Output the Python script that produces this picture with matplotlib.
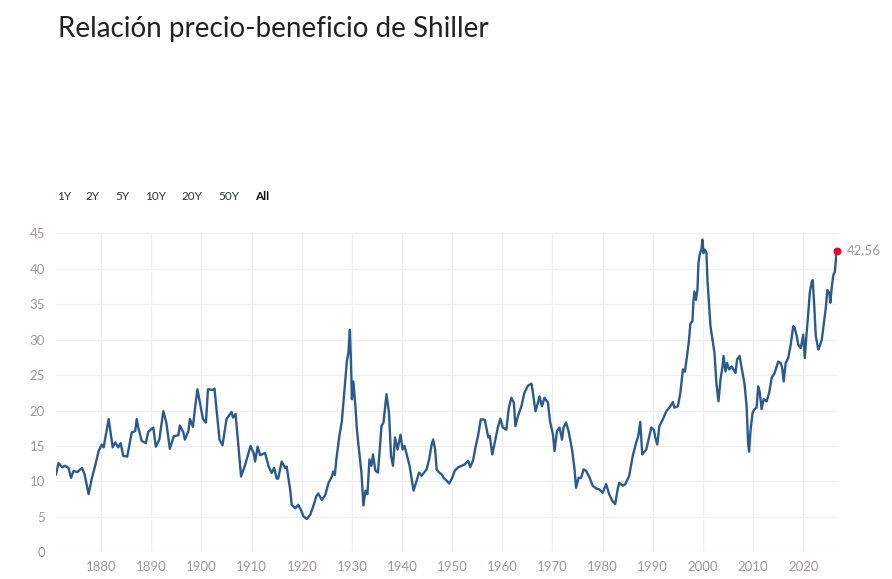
import matplotlib
matplotlib.use("Agg")
import matplotlib.pyplot as plt

# Shiller CAPE
years = [
    1871.0, 1871.5, 1872.2, 1872.8, 1873.5, 1874.0, 1874.5, 1875.2, 1876.2, 1876.7,
    1877.5, 1878.1, 1878.8, 1879.5, 1880.1, 1880.5, 1881.5, 1882.3, 1882.8, 1883.4,
    1883.9, 1884.4, 1885.2, 1886.1, 1886.8, 1887.1, 1887.4, 1888.1, 1888.9, 1889.4,
    1890.4, 1890.9, 1891.6, 1892.4, 1893.0, 1893.7, 1894.5, 1895.4, 1895.7, 1896.4,
    1896.7, 1897.4, 1897.7, 1898.3, 1898.7, 1899.2, 1899.7, 1900.3, 1900.9, 1901.3,
    1902.3, 1902.6, 1903.0, 1903.6, 1904.2, 1905.0, 1906.0, 1906.3, 1906.8, 1907.2,
    1907.9, 1908.7, 1909.4, 1909.8, 1910.4, 1910.7, 1911.2, 1911.7, 1912.7, 1913.4,
    1914.0, 1914.5, 1915.0, 1915.3, 1916.0, 1916.7, 1917.0, 1917.7, 1918.0, 1918.7,
    1919.3, 1920.0, 1920.3, 1921.0, 1921.7, 1922.3, 1922.9, 1923.3, 1924.0, 1924.7,
    1925.3, 1926.0, 1926.3, 1926.6, 1926.9, 1927.5, 1928.0, 1928.4, 1928.7, 1929.0,
    1929.3, 1929.6, 1929.8, 1930.0, 1930.3, 1930.7, 1931.0, 1931.3, 1931.9, 1932.3,
    1932.7, 1933.1, 1933.5, 1933.9, 1934.2, 1934.7, 1935.2, 1935.9, 1936.3, 1936.9,
    1937.4, 1937.8, 1938.2, 1938.6, 1939.1, 1939.7, 1940.1, 1940.5, 1941.5, 1942.3,
    1943.4, 1943.9, 1944.9, 1945.4, 1945.9, 1946.2, 1946.6, 1946.9, 1947.4, 1947.9,
    1948.3, 1948.9, 1949.4, 1950.0, 1950.5, 1951.2, 1951.9, 1952.5, 1953.2, 1953.6,
    1954.2, 1954.7, 1955.2, 1955.7, 1956.5, 1957.2, 1957.5, 1958.0, 1958.7, 1959.1,
    1959.6, 1960.1, 1960.8, 1961.3, 1961.8, 1962.3, 1962.6, 1963.1, 1963.8, 1964.4,
    1965.1, 1965.8, 1966.1, 1966.6, 1967.1, 1967.4, 1967.9, 1968.4, 1969.1, 1969.5,
    1970.1, 1970.4, 1970.9, 1971.4, 1971.9, 1972.2, 1972.7, 1973.2, 1973.9, 1974.4,
    1974.7, 1975.2, 1975.7, 1976.2, 1976.7, 1977.4, 1978.0, 1978.7, 1979.3, 1980.0,
    1980.7, 1981.3, 1981.9, 1982.5, 1983.0, 1983.3, 1984.0, 1984.5, 1985.3, 1986.0,
    1986.7, 1987.1, 1987.5, 1987.9, 1988.7, 1989.3, 1989.7, 1990.2, 1990.5, 1990.9,
    1991.3, 1992.0, 1992.7, 1993.5, 1994.0, 1994.3, 1995.0, 1995.5, 1996.0, 1996.4,
    1996.9, 1997.2, 1997.5, 1997.9, 1998.1, 1998.3, 1998.6, 1998.9, 1999.1, 1999.4,
    1999.7, 1999.9, 2000.1, 2000.4, 2000.7, 2000.9, 2001.2, 2001.5, 2002.0, 2002.3,
    2002.7, 2003.1, 2003.5, 2003.9, 2004.1, 2004.5, 2004.8, 2005.2, 2005.7, 2006.1,
    2006.5, 2006.8, 2007.3, 2007.9, 2008.3, 2008.7, 2009.0, 2009.2, 2009.5, 2009.9,
    2010.3, 2010.7, 2011.0, 2011.3, 2011.7, 2012.1, 2012.7, 2013.2, 2013.7, 2014.3,
    2015.0, 2015.5, 2015.8, 2016.1, 2016.5, 2017.0, 2017.5, 2018.0, 2018.3, 2018.7,
    2019.0, 2019.5, 2020.0, 2020.3, 2020.7, 2021.0, 2021.3, 2021.7, 2021.9, 2022.2,
    2022.5, 2023.0, 2023.3, 2023.7, 2024.1, 2024.5, 2024.8, 2025.2, 2025.4, 2025.7,
    2026.0, 2026.3, 2026.67,
]
cape = [
    11.0, 12.6, 12.0, 12.2, 11.9, 10.5, 11.5, 11.3, 11.9, 11.0,
    8.2, 10.3, 12.2, 14.3, 15.2, 14.8, 18.8, 14.8, 15.5, 14.8,
    15.4, 13.6, 13.5, 16.9, 17.1, 18.8, 17.6, 15.7, 15.4, 17.0,
    17.6, 14.9, 15.9, 19.9, 18.3, 14.6, 16.4, 16.5, 17.9, 16.9,
    15.9, 17.1, 18.8, 17.7, 20.2, 23.0, 21.1, 18.8, 18.3, 23.0,
    22.9, 23.1, 20.2, 15.9, 15.1, 18.8, 19.8, 19.0, 19.5, 16.4,
    10.7, 12.3, 14.0, 15.0, 14.0, 12.8, 14.9, 13.7, 14.0, 12.1,
    11.2, 11.9, 10.4, 10.4, 12.8, 11.9, 12.1, 8.8, 6.7, 6.2,
    6.7, 5.75, 5.1, 4.7, 5.3, 6.5, 7.9, 8.3, 7.4, 8.1,
    9.7, 10.7, 11.4, 10.9, 13.1, 16.4, 18.5, 21.8, 24.4, 27.0,
    28.1, 31.4, 27.2, 21.6, 24.1, 20.6, 17.3, 15.2, 11.25, 6.6,
    8.7, 8.2, 13.1, 12.2, 13.8, 11.5, 11.25, 17.8, 18.3, 22.3,
    19.7, 13.6, 12.2, 16.2, 14.5, 16.6, 14.5, 15.0, 12.2, 8.7,
    11.25, 10.8, 11.7, 13.1, 15.2, 15.9, 14.5, 11.7, 11.25, 11.0,
    10.5, 10.1, 9.7, 10.5, 11.5, 12.0, 12.2, 12.4, 12.9, 12.0,
    13.1, 15.0, 16.6, 18.75, 18.7, 16.2, 16.4, 13.8, 16.2, 17.6,
    18.85, 17.6, 17.3, 20.4, 21.8, 21.1, 17.8, 19.2, 20.6, 22.5,
    23.5, 23.8, 22.5, 19.9, 21.1, 22.0, 20.6, 21.8, 21.1, 18.5,
    16.6, 14.3, 17.1, 17.6, 15.9, 17.6, 18.3, 17.1, 14.5, 11.7,
    9.1, 10.5, 10.5, 11.7, 11.5, 10.5, 9.4, 9.0, 8.9, 8.4,
    9.6, 8.2, 7.3, 6.8, 8.9, 9.8, 9.4, 9.6, 10.8, 13.6,
    15.5, 16.4, 18.4, 13.8, 14.5, 16.4, 17.6, 17.3, 16.2, 15.2,
    17.8, 18.75, 19.9, 20.6, 21.2, 20.4, 20.6, 22.5, 25.8, 25.5,
    28.1, 29.8, 32.3, 32.6, 35.4, 36.8, 35.6, 37.0, 40.8, 42.2,
    42.7, 44.1, 42.2, 42.7, 42.2, 38.4, 35.2, 31.9, 29.5, 28.1,
    23.7, 21.3, 24.4, 26.2, 27.7, 25.5, 26.7, 25.8, 26.2, 25.8,
    25.3, 27.2, 27.7, 25.3, 23.7, 20.6, 15.5, 14.2, 17.3, 19.7,
    20.2, 20.4, 23.4, 22.7, 20.2, 21.6, 21.3, 22.5, 24.6, 25.3,
    26.9, 26.7, 26.0, 24.1, 26.7, 27.4, 29.3, 31.9, 31.6, 30.5,
    29.3, 28.8, 30.7, 27.4, 31.2, 33.7, 36.6, 38.2, 38.4, 34.7,
    30.5, 28.6, 29.1, 30.0, 32.3, 34.5, 37.0, 36.6, 35.2, 37.5,
    39.1, 39.6, 42.56,
]
last_label = "42.56"

title = "Relación precio-beneficio de Shiller"
ranges = ["1Y", "2Y", "5Y", "10Y", "20Y", "50Y", "All"]
range_x = [57, 85, 115, 145, 181, 218, 255]
y_ticks = [0, 5, 10, 15, 20, 25, 30, 35, 40, 45]
x_ticks = [1880, 1890, 1900, 1910, 1920, 1930, 1940, 1950, 1960, 1970, 1980, 1990, 2000, 2010, 2020]

plt.rcParams['font.family'] = ['Lato', 'DejaVu Sans']

W, H = 892, 579
fig = plt.figure(figsize=(W / 100, H / 100), dpi=100)
ax = fig.add_axes([56 / W, 1 - 552.3 / H, (836.7 - 56) / W, (552.3 - 233.3) / H])

ax.plot(years, cape, color="#2c5a8f", lw=1.7, solid_joinstyle="round", zorder=3)
ax.scatter([years[-1]], [cape[-1]], s=22, color="#e4002b", zorder=4, clip_on=False)
ax.annotate(last_label, (years[-1], cape[-1]), xytext=(7, 0), textcoords="offset points",
            va="center", ha="left", fontsize=9.5, color="#a09a94", annotation_clip=False)

ax.set_xlim(1871.0, 2026.67)
ax.set_ylim(0, 45)
ax.set_xticks(x_ticks)
ax.set_yticks(y_ticks)
ax.grid(True, color="#efefef", lw=0.9)
ax.set_axisbelow(True)
for s in ax.spines.values():
    s.set_visible(False)
ax.tick_params(length=0, labelsize=9.5, labelcolor="#a09a94")
ax.tick_params(axis="y", pad=8)
ax.tick_params(axis="x", pad=6)

fig.text(58 / W, 1 - 29 / H, title, fontsize=20, color="#222222", va="center", ha="left")

for lab, px in zip(ranges, range_x):
    bold = lab == "All"
    fig.text(px / W, 1 - 197 / H, lab, fontsize=8.5, va="center", ha="left",
             color="#111111" if bold else "#2a3340", fontweight="bold" if bold else "normal")

fig.savefig("out.png", dpi=100)
